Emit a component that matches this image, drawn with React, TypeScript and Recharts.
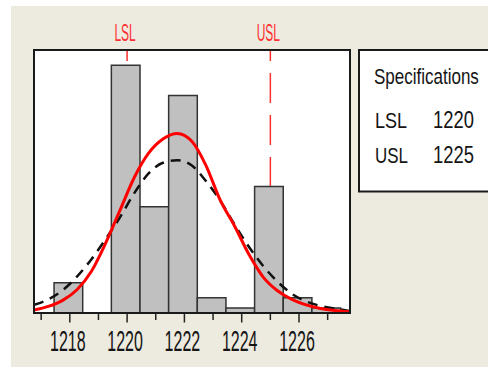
import { ComposedChart, Line, ReferenceArea, ReferenceLine, XAxis, YAxis } from "recharts";

// histogram: bin edges (n+1) and counts (n)
const binEdges = [1217.45, 1218.45, 1219.45, 1220.45, 1221.45, 1222.45, 1223.45, 1224.45, 1225.45, 1226.45, 1227.45];
const binCounts = [6, 0, 49, 21, 43, 3, 1, 25, 3, 1];

// fitted curves
const curveX = [
  1216.75, 1217.25, 1217.75, 1218.25, 1218.75, 1219.25, 1219.75, 1220.25, 1220.75, 1221.25, 1221.75, 1222.25,
  1222.75, 1223.25, 1223.75, 1224.25, 1224.75, 1225.25, 1225.75, 1226.25, 1226.75, 1227.25, 1227.75,
];
const withinFit = [
  0.6, 1.3, 2.5, 4.6, 8.2, 13.8, 20.3, 26.8, 31.6, 34.4, 35.5, 34.0, 29.2, 22.3, 17.2, 11.6, 7.1, 4.4, 2.7, 1.6,
  0.9, 0.5, 0.26,
];
const overallFit = [
  1.6, 2.7, 4.5, 7.2, 10.6, 14.6, 18.9, 23.7, 27.6, 29.7, 30.2, 29.2, 26.1, 22.2, 17.5, 13.1, 9.3, 6.2, 3.8, 2.3,
  1.4, 0.9, 0.4,
];

const axisTicks = [1217, 1218, 1219, 1220, 1221, 1222, 1223, 1224, 1225, 1226, 1227];
const xDomain = [1216.75, 1227.78];
const yMax = 52;

const specLabels = ["LSL", "USL"];
const specValues = [1220, 1225];

const FONT = "'Liberation Sans', Arial, sans-serif";
const BEIGE = "#EDEAE0";
const INK = "#151515";

const data = curveX.map((x, i) => ({ x, within: withinFit[i], overall: overallFit[i] }));

// the source text is tall and narrow, so scale it instead of picking a size
function TallText({ x, y, size, sx = 1, sy = 1, anchor = "start", fill = INK, children }: any) {
  return (
    <text
      transform={`translate(${x},${y}) scale(${sx},${sy})`}
      x={0}
      y={0}
      fontSize={size}
      fontFamily={FONT}
      textAnchor={anchor}
      fill={fill}
    >
      {children}
    </text>
  );
}

function AxisTick({ x, y, payload }: any) {
  const v = payload.value;
  const major = v % 2 === 0;
  return (
    <g>
      <line x1={x} x2={x} y1={y + 1} y2={y + (major ? 9.5 : 7)} stroke="#222" strokeWidth={1.5} />
      {major && (
        <TallText x={x - 2} y={y + 37.5} size={16} sy={1.86} anchor="middle">
          {v}
        </TallText>
      )}
    </g>
  );
}

const specLabel = (text: string) => (props: any) => {
  const vb = props.viewBox || {};
  return (
    <TallText x={vb.x - 2} y={vb.y - 9.3} size={12} sy={2.0} anchor="middle" fill="#FF3030">
      {text}
    </TallText>
  );
};

export default function App() {
  return (
    <div style={{ position: "absolute", left: 0, top: 0, width: 488, height: 367, overflow: "hidden", background: "#fff" }}>
      <svg width={488} height={367} style={{ position: "absolute", left: 0, top: 0 }}>
        <rect x={11} y={6} width={477} height={361} fill={BEIGE} />
        <rect x={34} y={50} width={316} height={263} fill="#fff" />
        <rect x={359} y={50} width={140} height={141.5} fill="#fff" stroke="#1a1a1a" strokeWidth={2} />
        <TallText x={374} y={84} size={17} sy={1.25}>
          Specifications
        </TallText>
        {specLabels.map((s, i) => (
          <g key={s}>
            <TallText x={375} y={127.5 + i * 35.5} size={18} sx={i ? 0.94 : 1} sy={1.27}>
              {s}
            </TallText>
            <TallText x={433} y={127.5 + i * 35.5} size={18.4} sy={1.25}>
              {specValues[i]}
            </TallText>
          </g>
        ))}
      </svg>

      <div style={{ position: "absolute", left: 0, top: 0 }}>
        <ComposedChart width={488} height={367} data={data} margin={{ top: 50, right: 138, bottom: 0, left: 34 }}>
          <XAxis
            dataKey="x"
            type="number"
            domain={xDomain}
            ticks={axisTicks}
            interval={0}
            allowDataOverflow
            axisLine={false}
            tickLine={false}
            tickSize={0}
            tickMargin={0}
            height={54}
            tick={<AxisTick />}
          />
          <YAxis hide type="number" domain={[0, yMax]} allowDataOverflow />
          {specValues.map((v, i) => (
            <ReferenceLine
              key={specLabels[i]}
              x={v}
              stroke="#FF3030"
              strokeWidth={1.5}
              strokeDasharray="30 12"
              zIndex={50}
              label={specLabel(specLabels[i])}
            />
          ))}
          {binCounts.map((c, i) =>
            c > 0 ? (
              <ReferenceArea
                key={i}
                x1={binEdges[i]}
                x2={binEdges[i + 1]}
                y1={0}
                y2={c}
                fill="#C0C0C0"
                fillOpacity={1}
                stroke="#333"
                strokeWidth={1.5}
                ifOverflow="visible"
              />
            ) : null
          )}
          <Line
            dataKey="overall"
            type="monotone"
            stroke="#111"
            strokeWidth={2.5}
            strokeDasharray="10 7"
            dot={false}
            isAnimationActive={false}
          />
          <Line dataKey="within" type="monotone" stroke="#FF0000" strokeWidth={3} dot={false} isAnimationActive={false} />
        </ComposedChart>
      </div>

      <svg width={488} height={367} style={{ position: "absolute", left: 0, top: 0, pointerEvents: "none" }}>
        <rect x={34} y={50} width={316} height={263} fill="none" stroke="#1a1a1a" strokeWidth={2} />
      </svg>
    </div>
  );
}
